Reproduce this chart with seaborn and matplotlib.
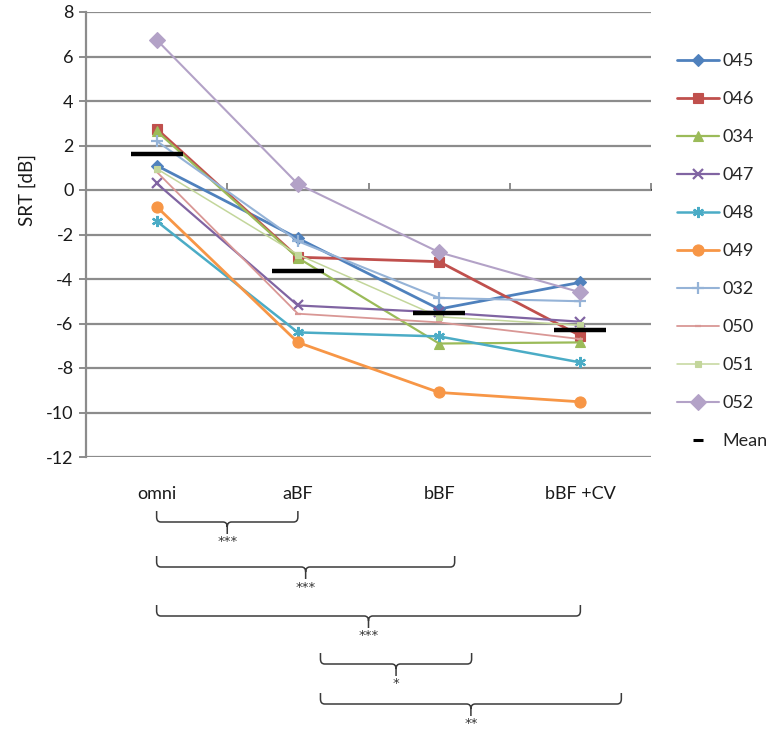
import numpy as np
import pandas as pd
import matplotlib
matplotlib.use("Agg")
import matplotlib.pyplot as plt
import seaborn as sns
from matplotlib.path import Path
from matplotlib.patches import PathPatch
from matplotlib.lines import Line2D
from matplotlib.transforms import blended_transform_factory

# ---- data ----
conditions = ["omni", "aBF", "bBF", "bBF +CV"]

s045 = [1.1, -2.17, -5.35, -4.15]
s046 = [2.75, -3.02, -3.22, -6.55]
s034 = [2.65, -3.05, -6.9, -6.85]
s047 = [0.3, -5.19, -5.5, -5.92]
s048 = [-1.4, -6.4, -6.58, -7.75]
s049 = [-0.75, -6.85, -9.1, -9.52]
s032 = [2.2, -2.3, -4.85, -5.0]
s050 = [0.82, -5.56, -5.95, -6.7]
s051 = [0.96, -2.9, -5.7, -6.08]
s052 = [6.75, 0.27, -2.8, -4.6]
mean_srt = [1.6, -3.66, -5.52, -6.3]

subjects = ["045", "046", "034", "047", "048", "049", "032", "050", "051", "052"]
values = [s045, s046, s034, s047, s048, s049, s032, s050, s051, s052]

# significance braces: (left, right) in category units, label
brace_left = [0, 0, 0, 1.16, 1.16]
brace_right = [1, 2.11, 3.0, 2.23, 3.29]
brace_stars = ["***", "***", "***", "*", "**"]

# ---- styling ----
colors = ["#4F81BD", "#C0504D", "#9BBB59", "#8064A2", "#4BACC6",
          "#F79646", "#95B3D7", "#D99795", "#C3D69B", "#B3A2C7"]
markers = ["D", "s", "^", "x", (6, 2, 0), "o", "+", "_", "s", "D"]
msizes = [6, 7.5, 7.5, 7.5, 8, 8, 8, 5, 5, 8.5]
lwidths = [2.0, 2.0, 1.6, 1.6, 1.8, 2.0, 1.5, 1.3, 1.1, 1.5]

sns.set_theme(style="white")
plt.rcParams["font.family"] = ["Lato", "DejaVu Sans"]
plt.rcParams["axes.unicode_minus"] = False

W, H = 774, 733
fig = plt.figure(figsize=(W / 100, H / 100), dpi=100)
ax = fig.add_axes([86 / W, 1 - 457 / H, (651 - 86) / W, (457 - 12) / H])

grid_c = "#8C8C8C"
txt_c = "#1a1a1a"

for subj, vals, c, m, ms, lw in zip(subjects, values, colors, markers, msizes, lwidths):
    df = pd.DataFrame({"condition": conditions, "SRT": vals})
    sns.lineplot(data=df, x="condition", y="SRT", color=c, marker=m,
                 markersize=ms, linewidth=lw, markeredgecolor=c,
                 markeredgewidth=1.6 if m in ("x", "+", "_", (6, 2, 0)) else 0.8,
                 label=subj, ax=ax, zorder=3)

sns.scatterplot(x=conditions, y=mean_srt, marker="_", s=1400, linewidth=3.2,
                color="black", label="Mean", ax=ax, zorder=6)

ax.set_xlim(-0.5, 3.5)
ax.set_ylim(-12, 8)
ax.set_yticks(np.arange(-12, 9, 2))
ax.yaxis.grid(True, color=grid_c, linewidth=1.6)
ax.xaxis.grid(False)
for side in ["top", "right", "bottom"]:
    ax.spines[side].set_visible(False)
ax.spines["left"].set_color(grid_c)
ax.spines["left"].set_linewidth(1.6)
ax.tick_params(axis="y", direction="out", length=5, width=1.4, color=grid_c,
               labelsize=13, labelcolor=txt_c, pad=4, left=True)
ax.set_xticks(range(len(conditions)))
ax.set_xticklabels(conditions)
ax.tick_params(axis="x", length=0, pad=21, labelsize=13, labelcolor=txt_c)
ax.set_xlabel("")
ax.set_ylabel("SRT [dB]", fontsize=13.5, color=txt_c)
ax.yaxis.set_label_coords(-0.088, 0.6)

# category axis crossing at 0 with tick marks between categories
zero_ax = ax.secondary_xaxis(12 / 20)
zero_ax.set_xticks([0.5, 1.5, 2.5, 3.5])
zero_ax.set_xticklabels([])
zero_ax.tick_params(direction="out", length=5, width=1.4, color=grid_c)
zero_ax.spines["bottom"].set_color(grid_c)
zero_ax.spines["bottom"].set_linewidth(1.6)

# legend
handles, labels = ax.get_legend_handles_labels()
handles = handles[:-1] + [Line2D([], [], color="black", marker="_", ls="none",
                                 markersize=7, markeredgewidth=2.2)]
if ax.get_legend() is not None:
    ax.get_legend().remove()
fig.legend(handles, labels, loc="upper left", bbox_to_anchor=(677 / W, 1 - 53 / H),
           frameon=False, fontsize=13, handlelength=2.3, handletextpad=0.2,
           labelspacing=1.22, borderpad=0, borderaxespad=0)

# significance braces below the chart
trans = blended_transform_factory(ax.transData, fig.transFigure)
bar_px = [522, 567, 616, 664, 704]
rx, ry = 0.03, 5 / H
for x0, x1, lab, yb in zip(brace_left, brace_right, brace_stars, bar_px):
    yb = 1 - yb / H
    ytip, yspk = yb + 11 / H, yb - 12 / H
    xm = (x0 + x1) / 2
    verts = [(x0, ytip), (x0, yb + ry), (x0, yb), (x0 + rx, yb),
             (xm - rx, yb), (xm, yb), (xm, yb - ry), (xm, yspk),
             (xm, yb - ry), (xm, yb), (xm + rx, yb),
             (x1 - rx, yb), (x1, yb), (x1, yb + ry), (x1, ytip)]
    codes = [Path.MOVETO, Path.LINETO, Path.CURVE3, Path.CURVE3,
             Path.LINETO, Path.CURVE3, Path.CURVE3, Path.LINETO,
             Path.MOVETO, Path.CURVE3, Path.CURVE3,
             Path.LINETO, Path.CURVE3, Path.CURVE3, Path.LINETO]
    ax.add_patch(PathPatch(Path(verts, codes), transform=trans, fill=False,
                           edgecolor="#3a3a3a", linewidth=1.1, clip_on=False))
    ax.text(xm, yspk - 8 / H, lab, transform=trans, ha="center", va="center",
            fontsize=9.5, color="#333333", family="DejaVu Sans")

fig.savefig("out.png", dpi=100)
